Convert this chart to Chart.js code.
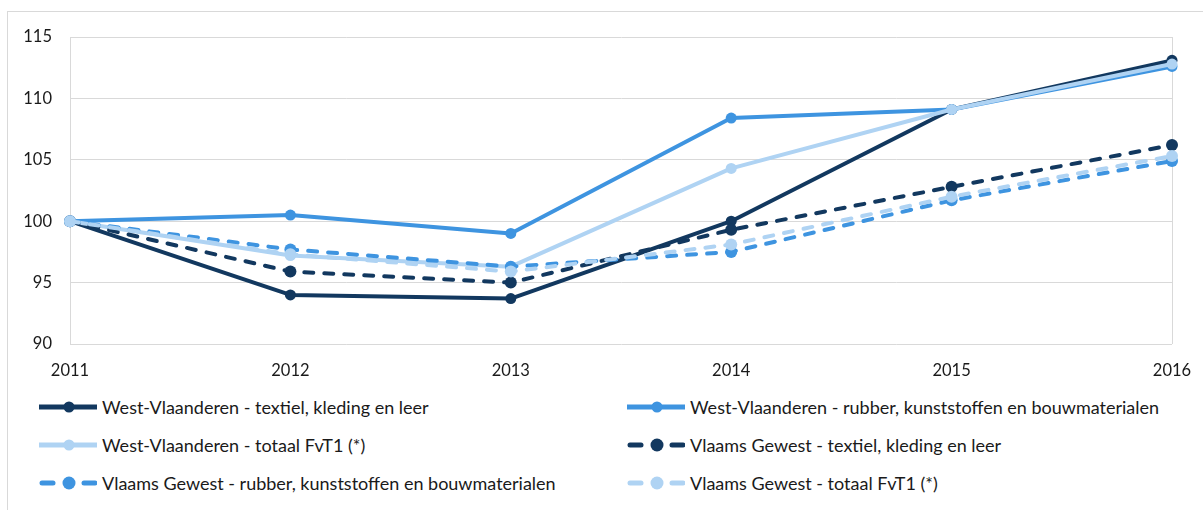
<!DOCTYPE html>
<html>
<head>
<meta charset="utf-8">
<script src="https://cdn.jsdelivr.net/npm/chart.js@4/dist/chart.umd.min.js"></script>
<style>
  html, body { margin: 0; padding: 0; background: #fff; }
  #wrap { position: relative; width: 1203px; height: 510px; overflow: hidden; font-family: Lato, "Open Sans", sans-serif; color: #1a1a1a; }
  #frame { position: absolute; left: 7px; top: 11px; width: 1210px; height: 520px; border: 1px solid #d9d9d9; box-sizing: border-box; }
  #cv { position: absolute; left: 0; top: 0; }
  .li { position: absolute; display: flex; align-items: center; font-size: 18px; white-space: nowrap; height: 20px; }
  .li svg { margin-right: 5px; }
</style>
</head>
<body>
<div id="wrap">
  <div id="frame"></div>
  <canvas id="cv" width="1203" height="384"></canvas>
  <div id="legend"></div>
</div>
<script>
const years = ['2011', '2012', '2013', '2014', '2015', '2016'];
const yTicks = [90, 95, 100, 105, 110, 115];

const seriesNames = [
  'West-Vlaanderen - textiel, kleding en leer',
  'West-Vlaanderen - rubber, kunststoffen en bouwmaterialen',
  'West-Vlaanderen - totaal FvT1 (*)',
  'Vlaams Gewest - textiel, kleding en leer',
  'Vlaams Gewest - rubber, kunststoffen en bouwmaterialen',
  'Vlaams Gewest - totaal FvT1 (*)'
];

const wvTextiel = [100, 94.0, 93.7, 100.0, 109.1, 113.1];
const wvRubber  = [100, 100.5, 99.0, 108.4, 109.1, 112.6];
const wvTotaal  = [100, 97.2, 96.3, 104.3, 109.1, 112.8];
const vgTextiel = [100, 95.9, 95.0, 99.3, 102.8, 106.2];
const vgRubber  = [100, 97.7, 96.3, 97.5, 101.7, 104.9];
const vgTotaal  = [100, 97.3, 95.9, 98.1, 102.0, 105.3];

const seriesValues = [wvTextiel, wvRubber, wvTotaal, vgTextiel, vgRubber, vgTotaal];
const colors = ['#12385f', '#3e94e0', '#afd3f3', '#12385f', '#3e94e0', '#afd3f3'];
const dashed = [false, false, false, true, true, true];

const datasets = seriesNames.map((name, i) => ({
  label: name,
  data: seriesValues[i],
  borderColor: colors[i],
  backgroundColor: colors[i],
  borderWidth: 4,
  borderDash: dashed[i] ? [9, 11] : [],
  borderCapStyle: dashed[i] ? 'round' : 'butt',
  borderJoinStyle: 'round',
  pointRadius: dashed[i] ? 6 : 5.5,
  pointBorderWidth: 0,
  pointHoverRadius: 6,
  tension: 0,
  order: seriesNames.length - i
}));

const chart = new Chart(document.getElementById('cv'), {
  type: 'line',
  data: { labels: years, datasets },
  options: {
    responsive: false,
    animation: false,
    events: [],
    layout: { padding: { top: 37, right: 31, left: 0, bottom: 0 } },
    plugins: { legend: { display: false }, tooltip: { enabled: false } },
    scales: {
      x: {
        offset: false,
        grid: {
          drawTicks: false,
          color: (c) => (c.index === 0 || c.index === years.length - 1) ? '#d9d9d9' : 'rgba(0,0,0,0)',
          lineWidth: 1
        },
        border: { display: false },
        ticks: { color: '#1a1a1a', font: { family: 'Lato', size: 16.5 }, padding: 17, maxRotation: 0 },
        afterFit: (s) => { s.height = 40; s.paddingLeft = 0; s.paddingRight = 0; }
      },
      y: {
        min: yTicks[0],
        max: yTicks[yTicks.length - 1],
        afterBuildTicks: (s) => { s.ticks = yTicks.map(v => ({ value: v })); },
        grid: { drawTicks: false, color: '#d9d9d9', lineWidth: 1 },
        border: { display: true, color: '#d9d9d9' },
        ticks: { color: '#1a1a1a', font: { family: 'Lato', size: 16.5 }, padding: 18 },
        afterFit: (s) => { s.width = 70; }
      }
    }
  }
});

// HTML legend built from the chart's datasets (two columns)
const legend = document.getElementById('legend');
const colX = [39, 627];
const rowY = [407, 444.5, 483];
chart.data.datasets.forEach((ds, i) => {
  const col = i % 2, row = Math.floor(i / 2);
  const div = document.createElement('div');
  div.className = 'li';
  div.style.left = colX[col] + 'px';
  div.style.top = (rowY[row] - 10) + 'px';
  const dash = ds.borderDash && ds.borderDash.length;
  const svg = dash
    ? `<svg width="58" height="16"><line x1="3" y1="8" x2="14" y2="8" stroke="${ds.borderColor}" stroke-width="5" stroke-linecap="round"/><circle cx="30" cy="8" r="6.5" fill="${ds.borderColor}"/><line x1="45" y1="8" x2="56" y2="8" stroke="${ds.borderColor}" stroke-width="5" stroke-linecap="round"/></svg>`
    : `<svg width="58" height="16"><line x1="0" y1="8" x2="58" y2="8" stroke="${ds.borderColor}" stroke-width="5"/><circle cx="30" cy="8" r="5.5" fill="${ds.borderColor}"/></svg>`;
  div.innerHTML = svg + '<span></span>';
  div.querySelector('span').textContent = ds.label;
  legend.appendChild(div);
});
</script>
</body>
</html>
